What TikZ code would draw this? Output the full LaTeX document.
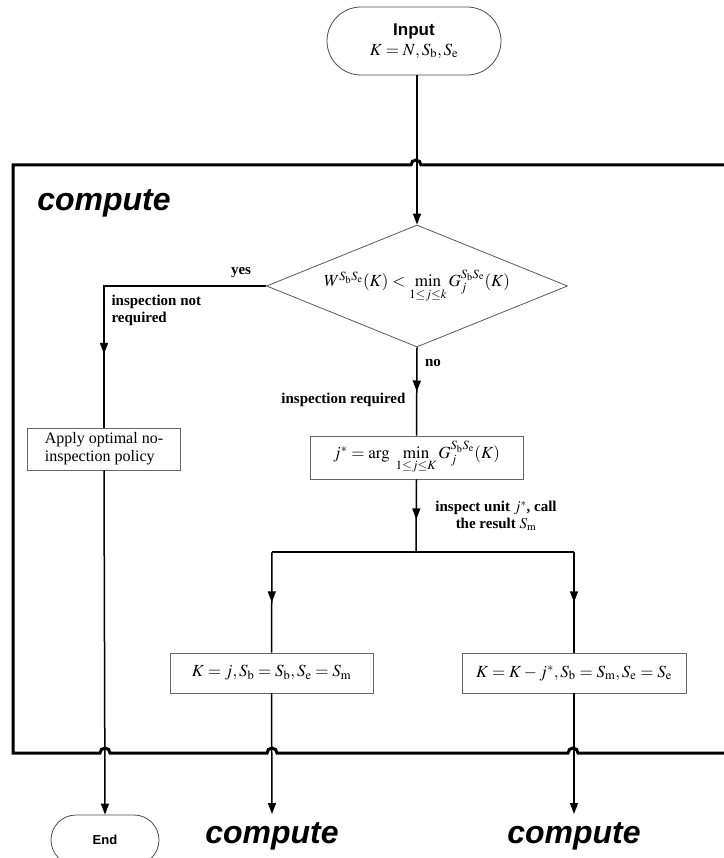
\documentclass[tikz,border=0pt]{standalone}
\usepackage{mathptmx}
\usepackage{fontspec}
\setmainfont{Liberation Serif}
\setsansfont{Liberation Sans}
\usetikzlibrary{shapes.misc,shapes.geometric,arrows.meta,decorations.markings}
\tikzset{
  conn/.style={line width=1.5pt},
  endarr/.style={-{Triangle[length=11pt,width=8pt]}},
  midarr/.style={postaction=decorate,decoration={markings,mark=at position #1 with {\arrow{Triangle[length=11pt,width=8pt]}}}},
  procbox/.style={draw=black!60,line width=0.8pt,rectangle,inner sep=2pt},
  term/.style={draw=black!70,line width=0.8pt,rounded rectangle,inner sep=2pt},
  lbl/.style={font=\fontsize{15}{17}\selectfont\bfseries},
  comp/.style={font=\sffamily\bfseries\itshape\fontsize{32}{36}\selectfont},
  frameline/.style={line width=3pt},
}
\begin{document}
\begin{tikzpicture}[x=1pt,y=-1pt]
\useasboundingbox (0,0) rectangle (723,858);

% terminals
\node[term,minimum width=178pt,minimum height=68pt,align=center] (in) at (414,41)
  {{\sffamily\bfseries\fontsize{17}{19}\selectfont Input}\\[4pt]
   {\fontsize{17}{19}\selectfont $K=N,S_{\mathrm b},S_{\mathrm e}$}};
\node[term,minimum width=112pt,minimum height=50pt] (end) at (105,840)
  {\sffamily\bfseries\fontsize{13}{15}\selectfont End};

% decision
\node[diamond,draw=black!65,line width=0.8pt,aspect=2.45,inner sep=0pt,
      minimum width=301pt,minimum height=122pt] (dia) at (417,286)
  {\fontsize{17}{19}\selectfont $W^{S_{\mathrm b}S_{\mathrm e}}(K)<\min\limits_{1\le j\le k}G_j^{S_{\mathrm b}S_{\mathrm e}}(K)$};

% process boxes
\node[procbox,minimum width=153pt,minimum height=42pt,align=left,
      font=\fontsize{16}{18}\selectfont] (apply) at (104,449)
  {Apply optimal no-\\inspection policy};
\node[procbox,minimum width=213pt,minimum height=43pt] (jbox) at (416.5,457.5)
  {\fontsize{17}{19}\selectfont $j^*=\arg\ \min\limits_{1\le j\le K}G_j^{S_{\mathrm b}S_{\mathrm e}}(K)$};
\node[procbox,minimum width=203pt,minimum height=40pt] (lbox) at (271.5,673)
  {\fontsize{17}{19}\selectfont $K=j,S_{\mathrm b}=S_{\mathrm b},S_{\mathrm e}=S_{\mathrm m}$};
\node[procbox,minimum width=224pt,minimum height=40pt] (rbox) at (574,673)
  {\fontsize{17}{19}\selectfont $K=K-j^*,S_{\mathrm b}=S_{\mathrm m},S_{\mathrm e}=S_{\mathrm e}$};

% compute labels
\node[comp] (c1) at (272,836) {compute};
\node[comp] (c2) at (574,836) {compute};
\node[comp] (c0) at (104,203) {compute};

% big frame with hops
\draw[frameline] (740,165) -- (421,165) arc[start angle=0,end angle=180,radius=5pt]
  -- (13,165) -- (13,753) -- (100,753) arc[start angle=180,end angle=0,radius=5pt]
  -- (267,753) arc[start angle=180,end angle=0,radius=5pt]
  -- (568,753) arc[start angle=180,end angle=0,radius=5pt] -- (740,753);

% coordinates
\coordinate (yc) at (104,286);
\coordinate (jc) at (416,552);
\coordinate (lc) at (272,552);
\coordinate (rc) at (574,552);
\coordinate (c1a) at (272,814);
\coordinate (c2a) at (574,814);

% connectors
\draw[conn,endarr] (in.south -| dia.north) -- (dia.north);
\draw[conn,midarr=230pt] (dia.west) -- (yc) -- (apply.north);
\draw[conn,endarr] (apply.south) -- (end.north);
\draw[conn,midarr=0.5] (dia.south) -- (jbox.north);
\draw[conn,midarr=0.55] (jbox.south) -- (jc);
\draw[conn] (lc) -- (rc);
\draw[conn,midarr=0.5] (lc) -- (lbox.north);
\draw[conn,midarr=0.5] (rc) -- (rbox.north);
\draw[conn,endarr] (lbox.south) -- (c1a);
\draw[conn,endarr] (rbox.south) -- (c2a);

% labels
\node[lbl] (yes) at (241,273) {yes};
\node[lbl,anchor=north west,align=left] (inr) at (108,292) {inspection not\\required};
\node[lbl] (no) at (433,363) {no};
\node[lbl,anchor=east] (ir) at (409,400) {inspection required};
\node[lbl,align=center] (iu) at (496,516) {inspect unit $j^*$, call\\the result $S_{\mathrm m}$};
\end{tikzpicture}
\end{document}
